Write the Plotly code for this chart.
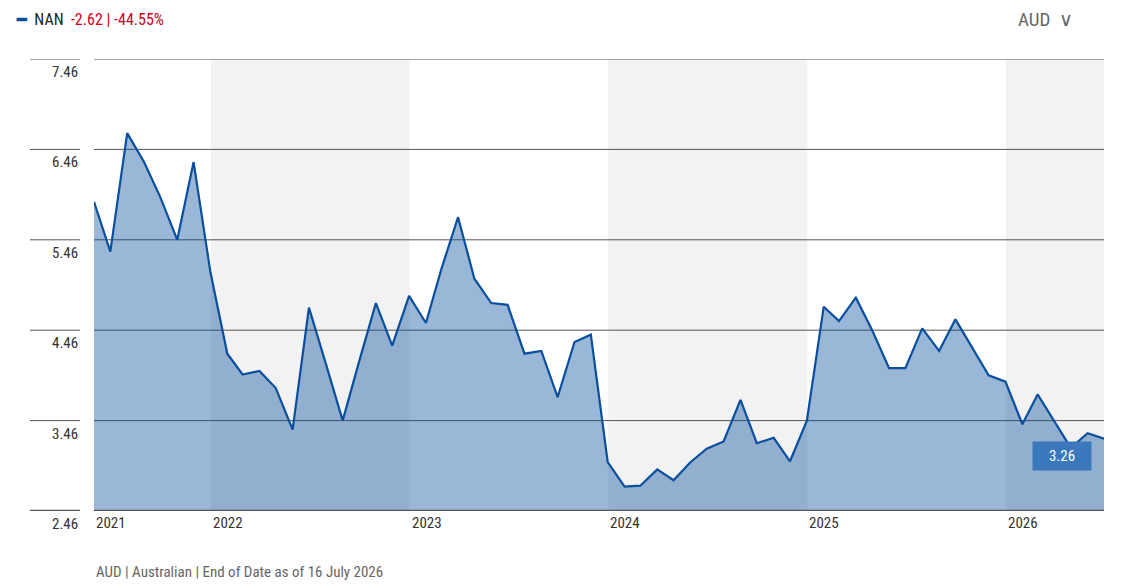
import plotly.graph_objects as go
import pandas as pd

dates = pd.date_range("2021-05-31", periods=62, freq="ME")
values = [5.88,5.33,6.64,6.32,5.93,5.46,6.32,5.10,4.20,3.97,4.01,3.82,3.36,4.71,4.09,3.46,
          4.11,4.76,4.29,4.84,4.54,5.13,5.71,5.03,4.76,4.74,4.20,4.23,3.72,4.33,4.41,3.00,
          2.73,2.74,2.92,2.80,3.00,3.15,3.23,3.69,3.21,3.27,3.01,3.46,4.72,4.56,4.82,4.46,
          4.04,4.04,4.48,4.23,4.58,4.27,3.96,3.89,3.42,3.75,3.45,3.16,3.32,3.26]
yticks = [2.46,3.46,4.46,5.46,6.46,7.46]
years = ["2021","2022","2023","2024","2025","2026"]
year_pos = ["2021-05-31","2022-01-01","2023-01-01","2024-01-01","2025-01-01","2026-01-01"]
bands = [("2022-01-01","2023-01-01"),("2024-01-01","2025-01-01"),("2026-01-01","2026-06-30")]

FONT = "Roboto Condensed, Liberation Sans Narrow, Roboto, sans-serif"
W, H = 1121, 587
pw, ph = 1010, 452
def px(x): return (x - 94) / pw
def py(y): return 1 - (y - 59) / ph

fig = go.Figure(go.Scatter(x=dates, y=values, mode="lines", line=dict(color="#0a4f9e", width=2.2),
                           fill="tozeroy", fillcolor="rgba(10,79,158,0.41)", hoverinfo="skip"))
shapes = []
for a, b in bands:
    shapes.append(dict(type="rect", xref="x", yref="paper", x0=a, x1=b, y0=0, y1=1,
                       fillcolor="#f2f2f2", line_width=0, layer="below"))
ann = []
for t in yticks:
    w = 2.5 if t == yticks[0] else 1
    shapes.append(dict(type="line", xref="paper", yref="y", x0=px(30), x1=px(80), y0=t, y1=t,
                       line=dict(color="#555", width=w)))
    shapes.append(dict(type="line", xref="paper", yref="y", x0=0, x1=1, y0=t, y1=t,
                       line=dict(color="#555", width=w), layer="above" if t == yticks[0] else "below"))
    ann.append(dict(x=px(80), xref="paper", y=t, yref="y", text=f"{t:.2f}", showarrow=False,
                    xanchor="right", yanchor="top", yshift=-2, font=dict(size=15, color="#333", family=FONT)))
for yl, xp in zip(years, year_pos):
    ann.append(dict(x=xp, xref="x", y=0, yref="paper", text=yl, showarrow=False, xanchor="left",
                    yanchor="top", yshift=-1, font=dict(size=15, color="#333", family=FONT)))
ann.append(dict(x=dates[-1], y=values[-1], xref="x", yref="y", text=f"{values[-1]:.2f}", showarrow=False,
                xanchor="right", yanchor="top", xshift=-12, yshift=-2, bgcolor="#3b78bb",
                width=50, height=20, font=dict(size=15, color="white", family=FONT), borderpad=4))
ann.append(dict(x=px(14), y=py(20), xref="paper", yref="paper", showarrow=False, xanchor="left", yanchor="middle",
                text="<span style='color:#0a4f9e'><b>━</b></span>  <span style='color:#222'>NAN</span>  <span style='color:#d0021b'>-2.62 | -44.55%</span>",
                font=dict(size=16, family=FONT)))
ann.append(dict(x=px(1016), y=py(20), xref="paper", yref="paper", showarrow=False, xanchor="left", yanchor="middle",
                text="AUD  ∨", font=dict(size=19, color="#666", family=FONT)))
ann.append(dict(x=px(94), y=py(572), xref="paper", yref="paper", showarrow=False, xanchor="left", yanchor="middle",
                text="AUD | Australian | End of Date as of 16 July 2026", font=dict(size=15, color="#666", family=FONT)))
fig.update_layout(width=W, height=H, margin=dict(l=94, r=17, t=59, b=76),
                  paper_bgcolor="white", plot_bgcolor="white", showlegend=False,
                  xaxis=dict(range=["2021-05-31","2026-06-30"], showgrid=False, showticklabels=False, zeroline=False),
                  yaxis=dict(range=[2.46,7.46], showgrid=False, showticklabels=False, zeroline=False),
                  shapes=shapes, annotations=ann)
fig.write_html("out.html", config={"displayModeBar": False})
with open("out.html", encoding="utf-8") as f:
    html = f.read()
html = html.replace("<body>", "<body style=\"margin:0\">", 1)
with open("out.html", "w", encoding="utf-8") as f:
    f.write(html)
